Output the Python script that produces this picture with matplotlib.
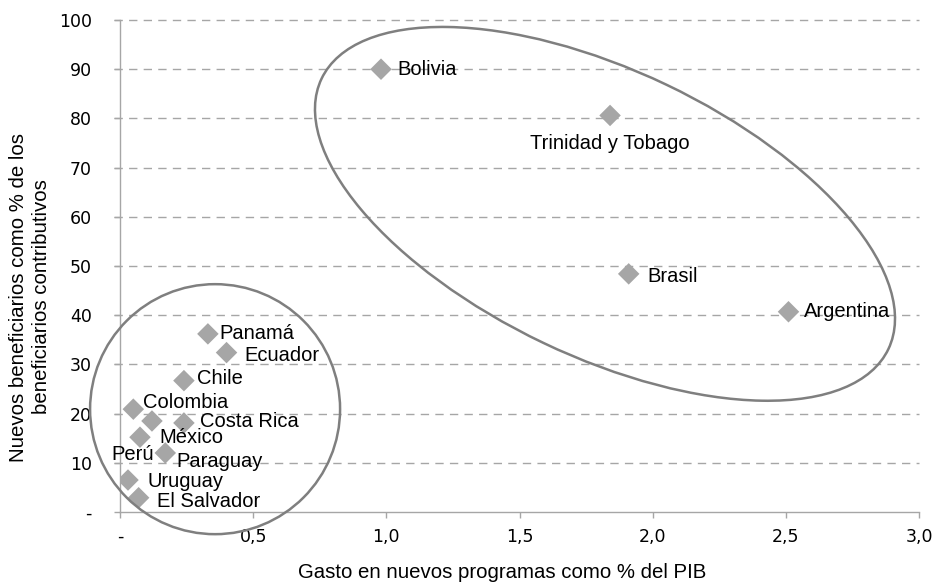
import matplotlib
matplotlib.use("Agg")
import matplotlib.pyplot as plt
from matplotlib.patches import Ellipse
import matplotlib.transforms as mtransforms

plt.rcParams['font.family'] = ['Liberation Sans', 'DejaVu Sans']

countries = ["Bolivia", "Trinidad y Tobago", "Brasil", "Argentina", "Panamá", "Ecuador",
             "Chile", "Colombia", "Perú", "Costa Rica", "México", "Paraguay", "Uruguay", "El Salvador"]
gasto = [0.98, 1.84, 1.91, 2.51, 0.33, 0.40, 0.24, 0.05, 0.12, 0.24, 0.075, 0.17, 0.03, 0.07]
benef = [90.0, 80.6, 48.4, 40.7, 36.2, 32.4, 26.7, 20.9, 18.5, 18.1, 15.2, 12.0, 6.5, 2.9]

x_ticks = [0, 0.5, 1.0, 1.5, 2.0, 2.5, 3.0]
x_ticklabels = ["-", "0,5", "1,0", "1,5", "2,0", "2,5", "3,0"]
y_ticks = [0, 10, 20, 30, 40, 50, 60, 70, 80, 90, 100]
y_ticklabels = ["-", "10", "20", "30", "40", "50", "60", "70", "80", "90", "100"]

# label offsets in points (dx, dy, ha)
label_offsets = {
    "Bolivia": (11.5, 0, "left"),
    "Trinidad y Tobago": (0, -20, "center"),
    "Brasil": (13.7, -2, "left"),
    "Argentina": (10.8, 0, "left"),
    "Panamá": (8.6, 0, "left"),
    "Ecuador": (13, -2, "left"),
    "Chile": (9.4, 1.4, "left"),
    "Colombia": (7, 5, "left"),
    "Perú": (1.5, -24, "right"),
    "Costa Rica": (11.5, 1.4, "left"),
    "México": (13.7, 0, "left"),
    "Paraguay": (8, -6.5, "left"),
    "Uruguay": (13.7, -1.4, "left"),
    "El Salvador": (13, -3, "left"),
}

W, H = 934, 582
fig = plt.figure(figsize=(W / 100, H / 100), dpi=100)
ax = fig.add_axes([120 / W, 1 - 512 / H, (919 - 120) / W, (512 - 20) / H])

grid_c = "#A6A6A6"
ax.set_xlim(0, 3.0)
ax.set_ylim(0, 100)
ax.set_xticks(x_ticks)
ax.set_xticklabels(x_ticklabels, fontfamily='DejaVu Sans', fontsize=12.5)
ax.set_yticks(y_ticks)
ax.set_yticklabels(y_ticklabels, fontfamily='DejaVu Sans', fontsize=12.5)
ax.tick_params(axis='both', colors=grid_c, labelcolor="#000000", length=4.3, width=1)
ax.tick_params(axis='x', pad=7)
ax.tick_params(axis='y', pad=16)
for s in ["top", "right"]:
    ax.spines[s].set_visible(False)
for s in ["left", "bottom"]:
    ax.spines[s].set_color(grid_c)
    ax.spines[s].set_linewidth(1)

for yv in y_ticks[1:]:
    ax.plot([-0.022, 3.0], [yv, yv], color=grid_c, lw=1, dashes=(6, 4.5), clip_on=False, zorder=1)

ax.scatter(gasto, benef, marker="D", s=120, color="#A6A6A6", edgecolors="none", zorder=3)

for name, xv, yv in zip(countries, gasto, benef):
    dx, dy, ha = label_offsets[name]
    ax.annotate(name, (xv, yv), xytext=(dx, dy), textcoords="offset points",
                ha=ha, va="center", fontsize=14.5, color="#000000", zorder=4)

# ellipses (sizes in inches around a data-space centre)
def add_ellipse(cx, cy, w_in, h_in, angle):
    tr = fig.dpi_scale_trans + mtransforms.ScaledTranslation(cx, cy, ax.transData)
    e = Ellipse((0, 0), w_in, h_in, angle=angle, transform=tr, fill=False,
                edgecolor="#7F7F7F", lw=1.8, clip_on=False, zorder=5)
    ax.add_artist(e)

add_ellipse(0.357, 20.9, 2.50, 2.50, 0)
add_ellipse(1.821, 60.6, 6.28, 2.86, -25.5)

fig.text(502 / W, 1 - 572 / H, "Gasto en nuevos programas como % del PIB",
         ha="center", va="center", fontsize=14.7)
fig.text(30 / W, 1 - 297 / H, "Nuevos beneficiarios como % de los\nbeneficiarios contributivos",
         ha="center", va="center", rotation=90, fontsize=14.7, linespacing=1.25)

fig.savefig("out.png", dpi=100)
